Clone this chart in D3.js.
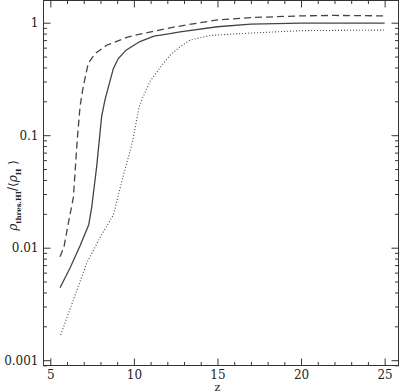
<!DOCTYPE html>
<html>
<head>
<meta charset="utf-8">
<script src="https://cdn.jsdelivr.net/npm/d3@7"></script>
<style>
  body { margin: 0; background: #fff; }
  text { font-family: "DejaVu Serif", "Liberation Serif", serif; fill: #222; }
</style>
</head>
<body>
<div id="chart"></div>
<script>
// redshift / density ratio for the three runs
var solidZ   = [5.58, 6.18, 6.78, 7.3, 7.48, 7.77, 8.07, 8.27, 8.77, 9.07, 9.53, 10.36, 11.2, 12.16, 12.76, 15, 17, 20, 25];
var solidV   = [0.0044, 0.0066, 0.0104, 0.016, 0.023, 0.052, 0.146, 0.206, 0.39, 0.48, 0.57, 0.68, 0.76, 0.80, 0.83, 0.92, 0.97, 0.99, 0.99];
var dashZ    = [5.58, 5.82, 6.08, 6.38, 6.61, 6.78, 6.97, 7.27, 7.67, 8.37, 9.57, 10.5, 12.5, 15, 17, 20, 22, 25];
var dashV    = [0.0083, 0.0102, 0.0165, 0.028, 0.09, 0.18, 0.27, 0.436, 0.53, 0.63, 0.74, 0.80, 0.92, 1.06, 1.11, 1.15, 1.16, 1.15];
var dotZ     = [5.62, 6.4, 7.18, 8.0, 8.77, 9.3, 9.9, 10.3, 10.5, 10.96, 11.76, 12.2, 12.76, 13.36, 14.56, 16.35, 20, 25];
var dotV     = [0.00168, 0.0035, 0.0073, 0.0125, 0.0195, 0.04, 0.085, 0.175, 0.21, 0.3, 0.435, 0.52, 0.61, 0.70, 0.77, 0.80, 0.85, 0.86];
var xTicks   = [5, 10, 15, 20, 25];
var yTicks   = [1, 0.1, 0.01, 0.001];
var yLabels  = ["1", "0.1", "0.01", "0.001"];

var margin = {top: 0.5, right: 1.5, bottom: 26.5, left: 43.5},
    width = 400 - margin.left - margin.right,
    height = 392 - margin.top - margin.bottom;

var x = d3.scaleLinear().domain([4.593, 25.83]).range([0, width]);
var y = d3.scaleLog().domain([0.000897, 1.575]).range([height, 0]);

var svg = d3.select("#chart").append("svg")
    .attr("width", 400)
    .attr("height", 392)
  .append("g")
    .attr("transform", "translate(" + margin.left + "," + margin.top + ")");

// minor ticks
var xMinor = d3.range(5, 26, 1).filter(function(d) { return d % 5 != 0; });
var yMinor = [];
[0.001, 0.01, 0.1, 1].forEach(function(p) {
  for (var k = 2; k <= 9; k++) if (p * k < 1.575) yMinor.push(p * k);
});
yMinor.push(0.0009);

function styleAxis(g) {
  g.select(".domain").remove();
  g.selectAll(".tick line").attr("stroke", "#333").attr("stroke-width", 1);
  g.selectAll(".tick text").style("font-size", "12px").attr("fill", "#222");
}

// bottom / top
svg.append("g").attr("transform", "translate(0," + height + ")")
    .call(d3.axisBottom(x).tickValues(xTicks).tickSize(-7).tickPadding(5).tickFormat(d3.format("d")))
    .call(styleAxis);
svg.append("g").attr("transform", "translate(0," + height + ")")
    .call(d3.axisBottom(x).tickValues(xMinor).tickSize(-3.5).tickFormat(""))
    .call(styleAxis);
svg.append("g")
    .call(d3.axisTop(x).tickValues(xTicks).tickSize(-7).tickFormat(""))
    .call(styleAxis);
svg.append("g")
    .call(d3.axisTop(x).tickValues(xMinor).tickSize(-3.5).tickFormat(""))
    .call(styleAxis);

// left / right
svg.append("g")
    .call(d3.axisLeft(y).tickValues(yTicks).tickSize(-7).tickPadding(5)
      .tickFormat(function(d, i) { return yLabels[i]; }))
    .call(styleAxis);
svg.append("g")
    .call(d3.axisLeft(y).tickValues(yMinor).tickSize(-3.5).tickFormat(""))
    .call(styleAxis);
svg.append("g").attr("transform", "translate(" + width + ",0)")
    .call(d3.axisRight(y).tickValues(yTicks).tickSize(-7).tickFormat(""))
    .call(styleAxis);
svg.append("g").attr("transform", "translate(" + width + ",0)")
    .call(d3.axisRight(y).tickValues(yMinor).tickSize(-3.5).tickFormat(""))
    .call(styleAxis);

// frame
svg.append("rect")
    .attr("width", width).attr("height", height)
    .attr("fill", "none").attr("stroke", "#333").attr("stroke-width", 1);

// curves
var line = d3.line()
    .x(function(d) { return x(d[0]); })
    .y(function(d) { return y(d[1]); });

var series = [
  {z: solidZ, v: solidV, dash: null, w: 1.3},
  {z: dashZ, v: dashV, dash: "7,4", w: 1.3},
  {z: dotZ, v: dotV, dash: "1,2", w: 1.1}
];
series.forEach(function(s) {
  svg.append("path")
      .datum(d3.zip(s.z, s.v))
      .attr("fill", "none")
      .attr("stroke", "#444")
      .attr("stroke-width", s.w)
      .attr("stroke-dasharray", s.dash)
      .attr("d", line);
});

// axis titles
svg.append("text")
    .attr("x", x(15)).attr("y", height + 25)
    .attr("text-anchor", "middle")
    .style("font-size", "11px")
    .text("z");

var yl = svg.append("text")
    .attr("transform", "translate(" + (-27) + "," + 195 + ") rotate(-90)")
    .attr("text-anchor", "middle")
    .style("font-size", "12px");
yl.append("tspan").style("font-style", "italic").text("ρ");
yl.append("tspan").attr("dy", 4).style("font-size", "7px").style("font-weight", "bold").text("thres.HI");
yl.append("tspan").attr("dy", -4).text("/⟨");
yl.append("tspan").style("font-style", "italic").text("ρ");
yl.append("tspan").attr("dy", 4).style("font-size", "7px").style("font-weight", "bold").text("H");
yl.append("tspan").attr("dy", -4).text(" ⟩");
</script>
</body>
</html>
